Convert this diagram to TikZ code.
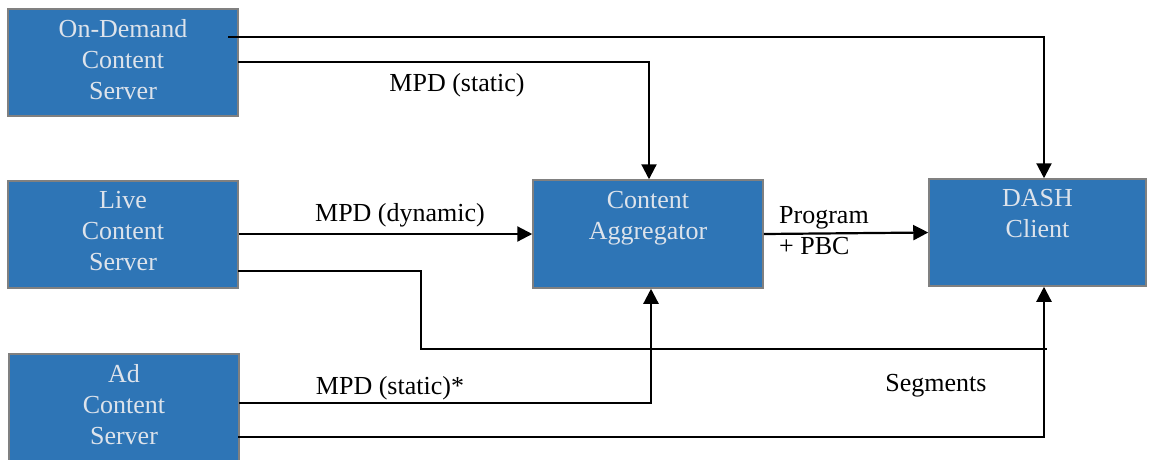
\documentclass[tikz,border=0pt]{standalone}
\usepackage{fontspec}
\setmainfont{Liberation Serif}
\usetikzlibrary{arrows.meta}
\definecolor{boxblue}{RGB}{46,117,182}
\definecolor{boxedge}{RGB}{128,128,128}
\definecolor{boxtext}{RGB}{221,227,235}
\tikzset{
  server/.style={draw=boxedge, line width=1.5pt, fill=boxblue, text=boxtext,
    minimum width=230pt, minimum height=107pt, inner sep=0pt, align=center,
    text depth=7pt, font=\fontsize{26}{31}\selectfont},
  lbl/.style={inner sep=0pt, font=\fontsize{26}{31}\selectfont},
  flow/.style={line width=2.2pt, -{Triangle[length=15pt,width=15pt]}},
  thinline/.style={line width=1.4pt}
}
\begin{document}
\begin{tikzpicture}[x=1pt,y=-1pt]
\useasboundingbox (0,0) rectangle (1150,459);

% boxes
\node[server] (od)   at (123,62.5)  {On-Demand\\Content\\Server};
\node[server] (live) at (123,234.5) {Live\\Content\\Server};
\node[server] (ad)   at (124,407.5) {Ad\\Content\\Server};
\node[server, minimum height=108pt] (agg) at (648,234) {Content\\Aggregator\\\phantom{A}};
\node[server, minimum width=217pt] (dash) at (1037.5,232.5) {DASH\\Client\\\phantom{A}};

% routing points
\coordinate (odA) at (228,37);
\coordinate (odB) at (238,62);
\coordinate (liveB) at (238,271);
\coordinate (liveC) at (421,349);
\coordinate (segEnd) at (1047,349);
\coordinate (adA) at (239,403);
\coordinate (adB) at (238,437);

% on-demand server
\draw[flow] (odA) -| ([xshift=6.5pt]dash.north);
\draw[flow] (odB) -| ([xshift=1pt]agg.north);

% live server
\draw[flow] (live.east |- agg.west) -- (agg.west);
\draw[thinline] (liveB) -| (liveC) -- (segEnd);

% ad server
\draw[flow] (adA) -| ([xshift=3pt]agg.south);
\draw[flow] (adB) -| ([xshift=6.5pt]dash.south);

% aggregator to client
\draw[flow] (agg.east) -- (dash.west);

% labels
\node[lbl] (l1) at (457,85)  {MPD (static)};
\node[lbl] (l2) at (400,215) {MPD (dynamic)};
\node[lbl] (l3) at (390,388) {MPD (static)*};
\node[lbl] (l4) at (936,386) {Segments};
\node[lbl, anchor=west, align=left] (l5) at (779,231) {Program\\+ PBC};
\end{tikzpicture}
\end{document}
